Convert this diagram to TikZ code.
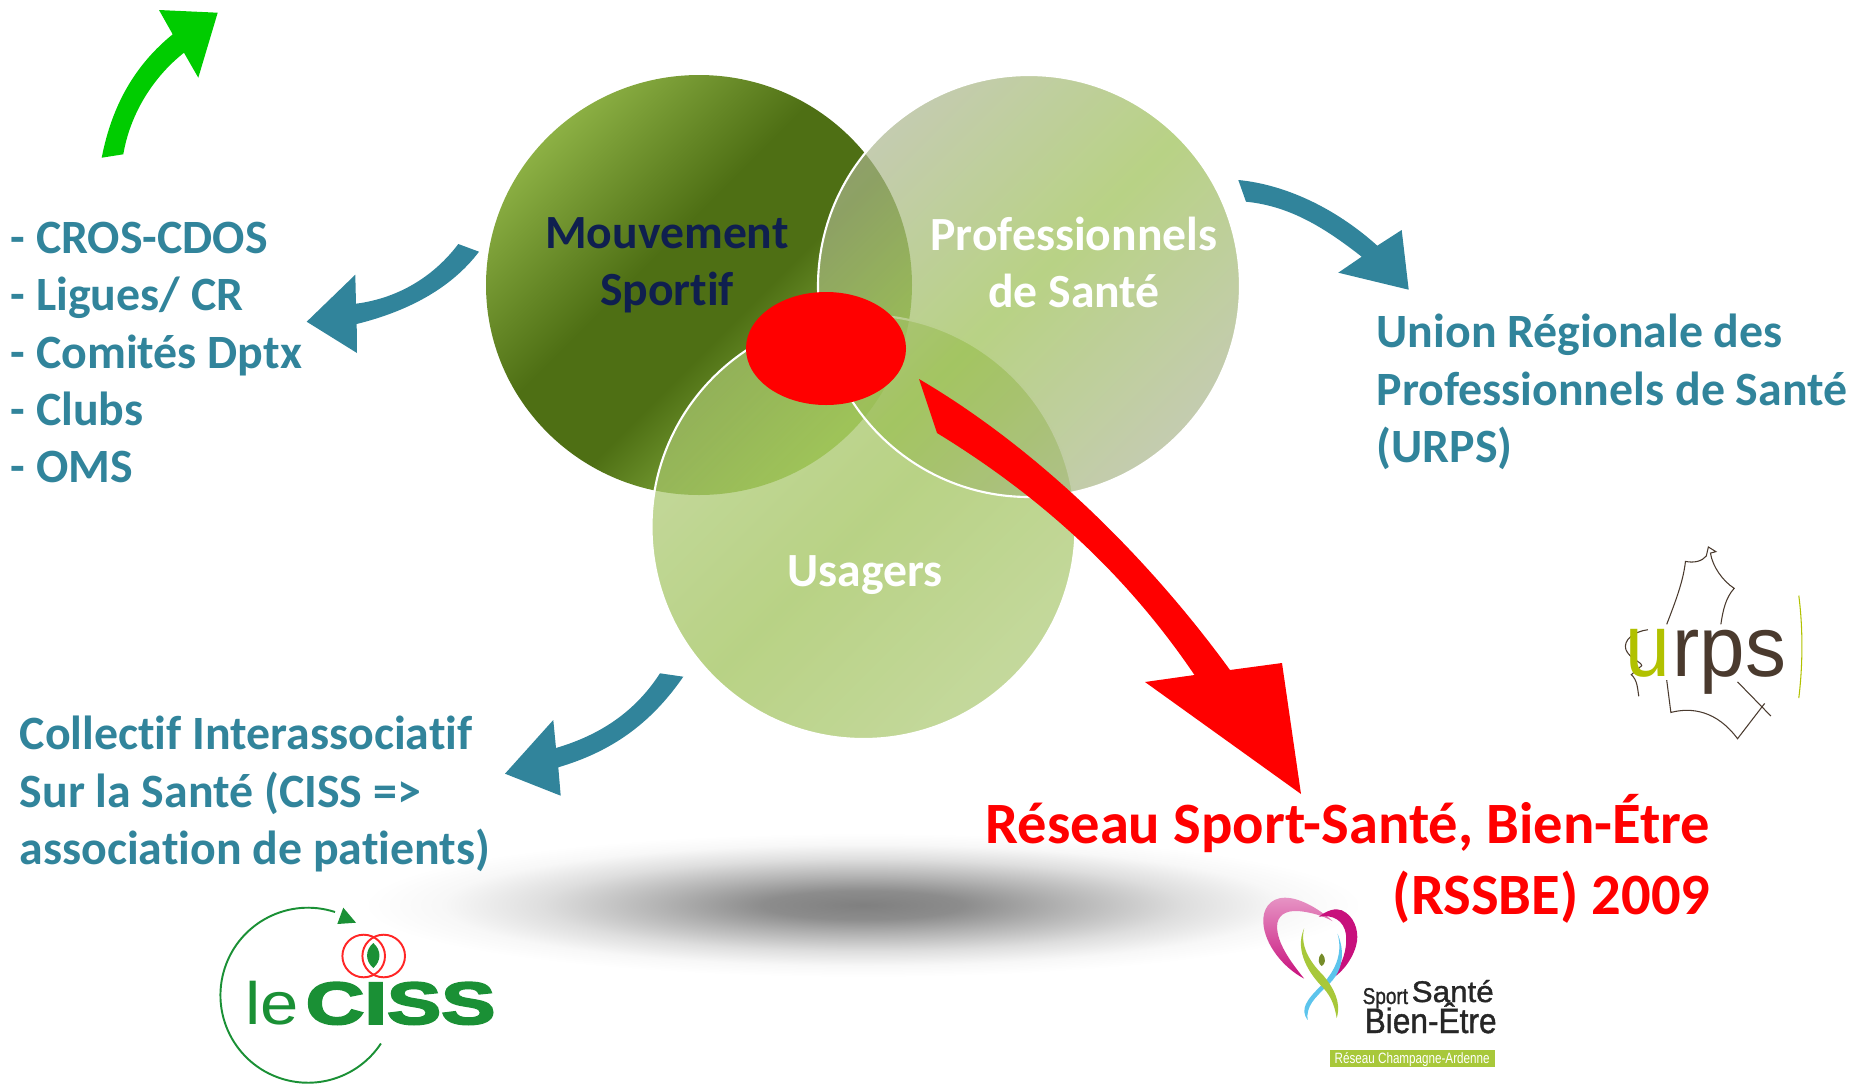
\documentclass[tikz,border=0pt]{standalone}
\usepackage{fontspec}
\setmainfont[Ligatures=NoCommon]{Carlito}
\newfontfamily\logofont{Liberation Sans}
\newfontfamily\logoheavy[FakeBold=1.2]{Liberation Sans}
\newfontfamily\cissfont[FakeBold=3]{Liberation Sans Bold}
\usetikzlibrary{calc}
\definecolor{tealA}{HTML}{31849B}
\definecolor{navyA}{HTML}{0F1F4F}
\definecolor{greenA}{HTML}{00CC00}
\definecolor{cissgreen}{HTML}{1A9035}
\definecolor{urpsbrown}{HTML}{4A3A2E}
\definecolor{urpsgreen}{HTML}{B1C100}
\definecolor{heartpink}{HTML}{C8107C}
\definecolor{dnablue}{HTML}{5CC4EC}
\definecolor{dnagreen}{HTML}{A8C83A}
\definecolor{sportlight}{HTML}{8CB044}
\definecolor{sportdark}{HTML}{4E6F14}
\definecolor{sportend}{HTML}{9CC850}
\definecolor{usageredge}{HTML}{ABC872}
\definecolor{usagermid}{HTML}{9ABF51}
\definecolor{santeedge}{HTML}{ABB68E}
\pgfdeclareradialshading{floorshade}{\pgfpoint{0bp}{0bp}}{%
	rgb(0bp)=(.50,.50,.50); rgb(5bp)=(.55,.55,.55); rgb(10bp)=(.70,.70,.70);
	rgb(16bp)=(.87,.87,.87); rgb(21bp)=(.97,.97,.97); rgb(25bp)=(1,1,1); rgb(50bp)=(1,1,1)}
\pgfdeclareverticalshading{sportshade}{100bp}{%
	color(0bp)=(sportend); color(25bp)=(sportend); color(44bp)=(sportdark);
	color(56bp)=(sportdark); color(75bp)=(sportlight); color(100bp)=(sportlight)}
\tikzset{
	bluetext/.style={text=tealA, font=\fontsize{13.6}{16.3}\selectfont\bfseries, inner sep=0pt, anchor=west, align=left},
	redtext/.style={text=red, font=\fontsize{16.65}{20.2}\selectfont\bfseries, inner sep=0pt, anchor=east, align=right},
	circletext/.style={font=\fontsize{13.55}{16.3}\selectfont\bfseries, inner sep=0pt, align=center},
	whiterim/.style={draw=white, line width=0.6pt},
	logotext/.style={inner sep=0pt, anchor=base west, text=black!85},
}
\begin{document}
\begin{tikzpicture}[x=0.01cm, y=-0.01cm]
	%%%%% page %%%%%
	\useasboundingbox (0, 0) rectangle (1853, 1084);

	%%%%% floor shadow %%%%%
	\shade[shading=floorshade] (863, 905) ellipse (500 and 72);

	%%%%% circles %%%%%
	\shade[shading=sportshade, shading angle=45] (699, 285) ellipse (213 and 210);
	\shade[opacity=0.7, left color=usageredge, right color=usageredge, middle color=usagermid, shading angle=45] (863.5, 527) ellipse (212 and 212);
	\draw[whiterim] (863.5, 527) ellipse (212 and 212);
	\shade[opacity=0.7, left color=santeedge, right color=santeedge, middle color=usagermid, shading angle=45] (1029, 286) ellipse (211 and 211);
	\draw[whiterim] (1029, 286) ellipse (211 and 211);
	\fill[red] (826, 348.5) ellipse (80 and 56.5);

	\node[circletext, text=navyA] (mouvement) at (667, 265) {Mouvement\\Sportif};
	\node[circletext, text=white] (professionnels) at (1074, 262.5) {Professionnels\\de Santé};
	\node[circletext, text=white] (usagers) at (865, 575.5) {Usagers};

	%%%%% arrows %%%%%
	\coordinate (redTail) at (919, 379);
	\coordinate (redTip) at (1301, 794);
	\fill[red] (redTail) .. controls (1040, 450) and (1150, 560) .. (1230, 670) -- (1282, 663) -- (redTip) -- (1145, 682) -- (1194.5, 675) .. controls (1120, 565) and (1030, 490) .. (937, 433) -- cycle;

	\coordinate (greenTail) at (101.7, 157.7);
	\coordinate (greenTip) at (217.7, 12.7);
	\fill[greenA] (greenTail) -- (123.3, 154.3) .. controls (130, 115) and (152, 78) .. (184, 52.7) -- (198.3, 77.7) -- (greenTip) -- (159, 10) -- (172.7, 34.3) .. controls (135, 65) and (112, 105) .. (greenTail) -- cycle;

	\coordinate (sportTail) at (458.3, 244);
	\coordinate (sportTip) at (306.7, 321.7);
	\fill[tealA] (sportTail) -- (479, 251.7) .. controls (450, 290) and (405, 312) .. (356.7, 324) -- (357, 353) -- (sportTip) -- (355.3, 274.7) -- (356, 303.7) .. controls (400, 298) and (435, 275) .. (sportTail) -- cycle;

	\coordinate (santeTail) at (1238.3, 180);
	\coordinate (santeTip) at (1408.7, 289.7);
	\fill[tealA] (santeTail) -- (1246, 201.7) .. controls (1290, 206) and (1325, 228) .. (1361.7, 256.7) -- (1338.3, 272.7) -- (santeTip) -- (1401.7, 230) -- (1377.3, 245.7) .. controls (1340, 212) and (1290, 185) .. (santeTail) -- cycle;

	\coordinate (usagerTail) at (660, 673.3);
	\coordinate (usagerTip) at (505, 773.7);
	\fill[tealA] (usagerTail) -- (683.3, 676.7) .. controls (650, 725) and (610, 752) .. (558.3, 767.3) -- (560.7, 795.7) -- (usagerTip) -- (553.3, 720) -- (556, 748) .. controls (600, 735) and (635, 712) .. (usagerTail) -- cycle;

	%%%%% texts %%%%%
	\node[bluetext] (listSport) at (10, 352.5) {- CROS-CDOS\\- Ligues/ CR\\- Comités Dptx\\- Clubs\\- OMS};
	\node[bluetext] (txtUrps) at (1376, 392) {Union Régionale des\\Professionnels de Santé\\(URPS)};
	\node[bluetext] (txtCiss) at (19, 794) {Collectif Interassociatif\\Sur la Santé (CISS =>\\association de patients)};
	\node[redtext] (txtReseau) at (1711, 859) {Réseau Sport-Santé, Bien-Étre\\(RSSBE) 2009};

	%%%%% leCISS logo %%%%%
	\draw[cissgreen, line width=0.55pt] (335, 912) arc (-72:-326.5:87.5);
	\fill[cissgreen] (343.3, 907.7) -- (356, 922.7) -- (337.3, 924) -- cycle;
	\draw[red!85!white, line width=0.55pt] (363.7, 956) circle (21.3);
	\draw[red!85!white, line width=0.55pt] (383.7, 956) circle (21.3);
	\fill[cissgreen] (373.3, 943) .. controls (365, 950) and (365, 961) .. (373.3, 968) .. controls (381.5, 961) and (381.5, 950) .. (373.3, 943);
	\node[logotext, text=cissgreen] (logoLe) at (245, 1024) {\scalebox{1.15}[1]{\logofont\fontsize{17}{17}\selectfont le}};
	\node[logotext, text=cissgreen] (logoCiss) at (305, 1024) {\scalebox{1.36}[1]{\cissfont\fontsize{17}{17}\selectfont CISS}};

	%%%%% urps logo %%%%%
	\begin{scope}[shift={(1200, 520)}, xscale=0.4167, yscale=0.3597]
		\draw[urpsbrown, line width=0.3pt] (1120, 290) .. controls (1140, 230) and (1160, 170) .. (1165, 115) .. controls (1185, 120) and (1205, 115) .. (1215, 100) -- (1220, 75) -- (1238, 88) -- (1225, 92) .. controls (1230, 130) and (1255, 170) .. (1282, 190) .. controls (1262, 215) and (1255, 250) .. (1250, 290);
		\draw[urpsbrown, line width=0.3pt] (1075, 305) .. controls (1040, 310) and (1015, 335) .. (1022, 360) .. controls (1030, 385) and (1060, 395) .. (1060, 405) -- (1035, 430) .. controls (1050, 445) and (1050, 470) .. (1053, 490);
		\draw[urpsbrown, line width=0.3pt] (1120, 445) -- (1130, 535) .. controls (1180, 520) and (1240, 530) .. (1290, 608) -- (1355, 510);
		\draw[urpsbrown, line width=0.3pt] (1290, 450) -- (1370, 545);
		\draw[urpsgreen, line width=0.3pt] (1437, 210) .. controls (1447, 300) and (1447, 400) .. (1437, 495);
	\end{scope}
	\node[logotext, text=urpsgreen] (logoU) at (1625, 676.5) {\scalebox{0.9}[1]{\logofont\fontsize{25.4}{25.4}\selectfont u}};
	\node[logotext, text=urpsbrown] (logoRps) at (1672, 676.5) {\scalebox{0.95}[1]{\logofont\fontsize{24.5}{24.5}\selectfont rps}};

	%%%%% heart logo %%%%%
	\begin{scope}[shift={(1200, 520)}, xscale=0.4167, yscale=0.3597]
		\shade[top color=heartpink!45, bottom color=heartpink] (318, 1115) .. controls (280, 1075) and (235, 1050) .. (205, 1050) .. controls (165, 1050) and (150, 1085) .. (152, 1120) .. controls (155, 1180) and (200, 1245) .. (250, 1275) .. controls (215, 1225) and (185, 1175) .. (185, 1130) .. controls (185, 1100) and (205, 1085) .. (235, 1087) .. controls (265, 1090) and (295, 1100) .. (318, 1115) -- cycle;
		\fill[heartpink] (285, 1103) .. controls (305, 1085) and (325, 1078) .. (340, 1085) .. controls (370, 1100) and (380, 1140) .. (377, 1170) .. controls (372, 1210) and (345, 1255) .. (320, 1272) .. controls (340, 1235) and (355, 1195) .. (350, 1150) .. controls (345, 1115) and (320, 1095) .. (285, 1103) -- cycle;
		\fill[dnablue] (330, 1150) .. controls (345, 1210) and (320, 1260) .. (290, 1295) .. controls (255, 1335) and (240, 1360) .. (258, 1390) .. controls (255, 1350) and (275, 1330) .. (305, 1295) .. controls (350, 1250) and (345, 1190) .. (330, 1150) -- cycle;
		\fill[dnagreen] (250, 1135) .. controls (225, 1200) and (265, 1265) .. (295, 1300) .. controls (320, 1330) and (325, 1365) .. (328, 1385) .. controls (340, 1340) and (320, 1300) .. (295, 1265) .. controls (260, 1225) and (240, 1180) .. (250, 1135) -- cycle;
		\fill[dnagreen!70!black] (292, 1205) .. controls (280, 1220) and (285, 1235) .. (292, 1240) .. controls (300, 1235) and (305, 1220) .. (292, 1205) -- cycle;
	\end{scope}
	\node[logotext] (logoSport) at (1362, 1004) {\scalebox{0.83}[1]{\logoheavy\fontsize{6.5}{6.5}\selectfont Sport}};
	\node[logotext] (logoSante) at (1411, 1002) {\scalebox{1.05}[1]{\logoheavy\fontsize{8.5}{8.5}\selectfont Santé}};
	\node[logotext] (logoBien) at (1364, 1033) {\scalebox{0.9}[1]{\logoheavy\fontsize{10}{10}\selectfont Bien-Être}};
	\fill[dnagreen] (1330, 1050) rectangle (1495, 1067);
	\node[logotext, text=white] (logoReseau) at (1334, 1063) {\scalebox{0.78}[1]{\logofont\fontsize{4.25}{4.25}\selectfont Réseau Champagne-Ardenne}};
\end{tikzpicture}
\end{document}
